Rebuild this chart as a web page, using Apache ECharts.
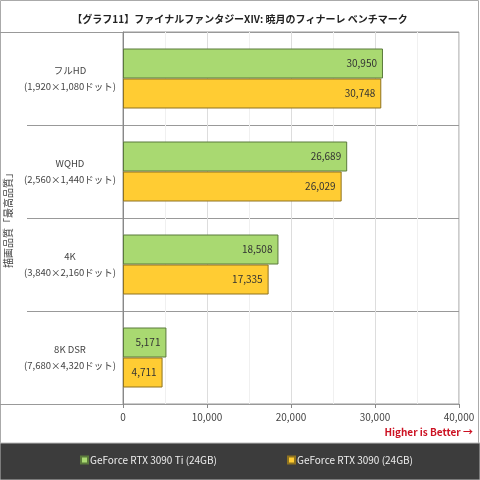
<!DOCTYPE html>
<html>
<head>
<meta charset="utf-8">
<script src="https://cdn.jsdelivr.net/npm/echarts@6/dist/echarts.min.js"></script>
<style>
  html, body { margin: 0; padding: 0; background: #fff; }
  #chart { width: 480px; height: 480px; }
</style>
</head>
<body>
<div id="chart"></div>
<script>
// データ
var categories = [
    'フルHD\n(1,920×1,080ドット)',
    'WQHD\n(2,560×1,440ドット)',
    '4K\n(3,840×2,160ドット)',
    '8K DSR\n(7,680×4,320ドット)'
];
var rtx3090ti = [30950, 26689, 18508, 5171];
var rtx3090 = [30748, 26029, 17335, 4711];
var seriesNames = ['GeForce RTX 3090 Ti (24GB)', 'GeForce RTX 3090 (24GB)'];

var FONT = '"Noto Sans CJK JP", "DejaVu Sans", sans-serif';

function fmt(v) {
    return Number(v).toLocaleString('en-US');
}

var chart = echarts.init(document.getElementById('chart'));

// 凡例（背景が暗いので文字は白っぽく）
function legendAt(name, left) {
    return {
        data: [name],
        left: left,
        top: 455,
        itemWidth: 7,
        itemHeight: 7,
        icon: 'rect',
        padding: 0,
        textStyle: { color: '#eee', fontSize: 10, fontFamily: FONT, padding: [0, 0, 0, -3] }
    };
}

var option = {
    animation: false,
    textStyle: { fontFamily: FONT },
    title: {
        text: '【グラフ11】ファイナルファンタジーXIV: 暁月のフィナーレ ベンチマーク',
        left: 'center',
        top: 9,
        textStyle: { fontSize: 10, fontWeight: 'bold', color: '#222', fontFamily: FONT }
    },
    legend: [legendAt(seriesNames[0], 80), legendAt(seriesNames[1], 287)],
    grid: {
        left: 123,
        right: 21,
        top: 32,
        bottom: 76,
        show: true,
        borderColor: '#999',
        borderWidth: 1,
        containLabel: false,
        outerBoundsMode: 'none'
    },
    xAxis: {
        type: 'value',
        min: 0,
        max: 40000,
        interval: 10000,
        axisLine: { show: false },
        axisTick: { show: true, length: 4, lineStyle: { color: '#888' } },
        axisLabel: { color: '#444', fontSize: 10, margin: 8, formatter: fmt },
        splitLine: { show: true, lineStyle: { color: '#ddd' } },
        minorTick: { show: false, splitNumber: 2 },
        minorSplitLine: { show: true, lineStyle: { color: '#f0f0f0' } }
    },
    yAxis: {
        type: 'category',
        data: categories,
        inverse: true,
        name: '描画品質「最高品質」',
        nameLocation: 'middle',
        nameRotate: 90,
        nameGap: 104,
        nameTextStyle: { fontSize: 10, color: '#444', fontFamily: FONT },
        axisLine: { show: true, lineStyle: { color: '#888' } },
        axisTick: { show: true, length: 96, lineStyle: { color: '#999' } },
        axisLabel: {
            align: 'center',
            margin: 53,
            fontSize: 9.5,
            lineHeight: 16,
            color: '#444'
        },
        splitLine: { show: true, lineStyle: { color: '#999' } }
    },
    series: [
        {
            name: seriesNames[0],
            type: 'bar',
            data: rtx3090ti,
            barWidth: 30,
            barGap: '0%',
            itemStyle: { color: '#a9d971', borderColor: '#5b7a3c', borderWidth: 1 },
            label: {
                show: true,
                position: 'insideRight',
                color: '#333',
                fontSize: 10,
                distance: 6,
                formatter: function (p) { return fmt(p.value); }
            }
        },
        {
            name: seriesNames[1],
            type: 'bar',
            data: rtx3090,
            barWidth: 30,
            itemStyle: { color: '#ffcc33', borderColor: '#8f7320', borderWidth: 1 },
            label: {
                show: true,
                position: 'insideRight',
                color: '#333',
                fontSize: 10,
                distance: 6,
                formatter: function (p) { return fmt(p.value); }
            }
        }
    ],
    graphic: [
        // 外枠
        {
            type: 'rect', silent: true, z: -1,
            shape: { x: 0.5, y: 0.5, width: 478, height: 478 },
            style: { fill: 'none', stroke: '#aaa', lineWidth: 1 }
        },
        // 枠線の延長
        {
            type: 'line', silent: true,
            shape: { x1: 0, y1: 32.5, x2: 123, y2: 32.5 },
            style: { stroke: '#999', lineWidth: 1 }
        },
        {
            type: 'line', silent: true,
            shape: { x1: 0, y1: 404.5, x2: 123, y2: 404.5 },
            style: { stroke: '#999', lineWidth: 1 }
        },
        // 凡例の背景
        {
            type: 'rect', silent: true, z: -1,
            shape: { x: 0, y: 443, width: 480, height: 37 },
            style: { fill: '#3c3c3c', stroke: '#bbb', lineWidth: 1 }
        },
        {
            type: 'text', silent: true,
            right: 7, top: 427,
            style: {
                text: 'Higher is Better →',
                fill: '#cc1122',
                font: 'bold 10px ' + FONT
            }
        }
    ]
};

chart.setOption(option);
</script>
</body>
</html>
